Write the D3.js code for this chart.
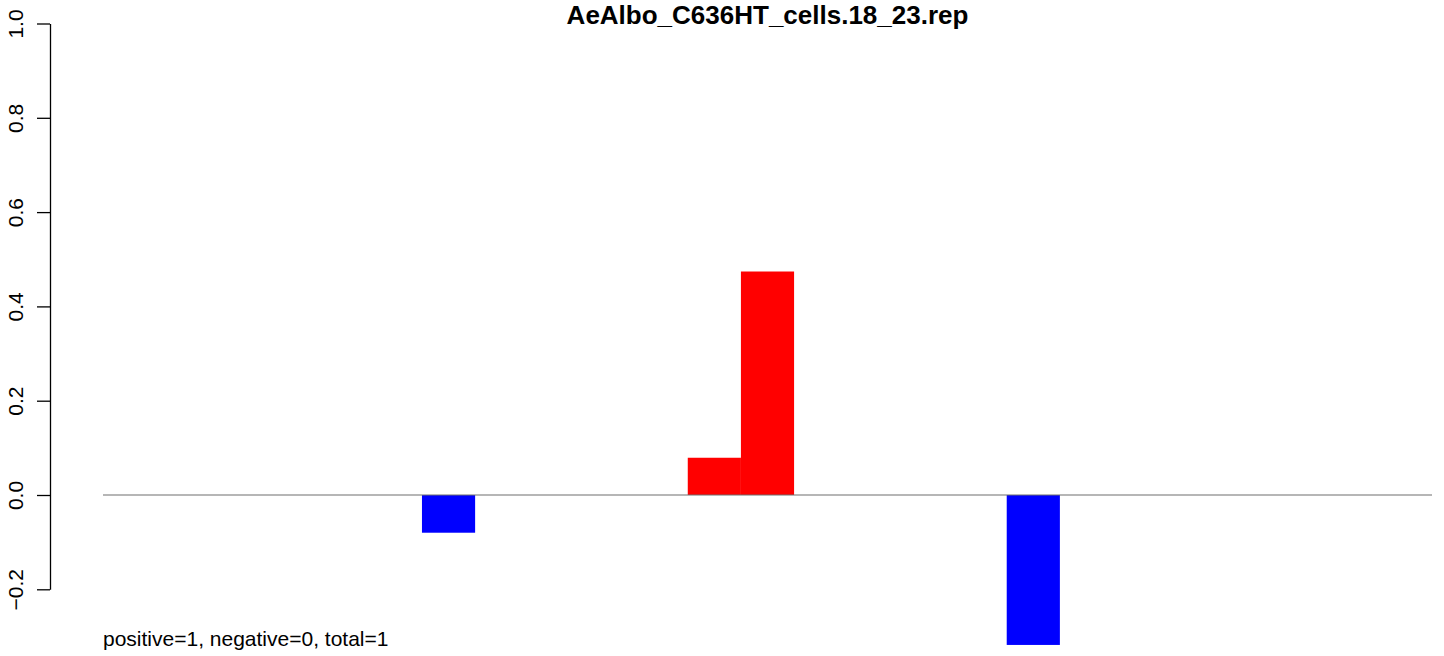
<!DOCTYPE html>
<html>
<head>
<meta charset="utf-8">
<script src="https://cdn.jsdelivr.net/npm/d3@7"></script>
<style>
  body { margin: 0; background: #fff; }
  text { font-family: "Liberation Sans", Arial, Helvetica, sans-serif; }
</style>
</head>
<body>
<script>
// one bar per slot, R barplot style (space = 0)
var slots = d3.range(1, 26);
var values = [0, 0, 0, 0, 0, 0, -0.08, 0, 0, 0, 0, 0.079, 0.474, 0, 0, 0, 0, -0.318, 0, 0, 0, 0, 0, 0, 0];
var yTicks = [-0.2, 0.0, 0.2, 0.4, 0.6, 0.8, 1.0];
var title = "AeAlbo_C636HT_cells.18_23.rep";
var note = "positive=1, negative=0, total=1";

var width = 1444, height = 656;

var svg = d3.select("body").append("svg")
    .attr("width", width)
    .attr("height", height);

var x = d3.scaleBand()
    .domain(slots)
    .range([103, 1432])
    .padding(0);

var y = d3.scaleLinear()
    .domain([-0.2, 1.0])
    .range([589.3, 23.5]);

svg.append("g")
  .selectAll("rect")
  .data(values.map(function(v, i) { return {slot: slots[i], v: v}; })
          .filter(function(d) { return d.v != 0; }))
  .enter().append("rect")
    .attr("x", function(d) { return x(d.slot); })
    .attr("width", x.bandwidth())
    .attr("y", function(d) { return y(Math.max(0, d.v)); })
    .attr("height", function(d) { return Math.abs(y(d.v) - y(0)); })
    .attr("fill", function(d) { return d.v > 0 ? "#ff0000" : "#0000ff"; });

// zero line
svg.append("line")
    .attr("x1", x.range()[0])
    .attr("x2", x.range()[1])
    .attr("y1", y(0))
    .attr("y2", y(0))
    .attr("stroke", "#6e6e6e")
    .attr("stroke-width", 1.1);

var yAxis = svg.append("g")
    .attr("transform", "translate(50,0)")
    .call(d3.axisLeft(y)
      .tickValues(yTicks)
      .tickFormat(d3.format(".1f"))
      .tickSize(13)
      .tickSizeOuter(0));

yAxis.selectAll("path, line")
    .attr("stroke", "#000")
    .attr("stroke-width", 1.3);

yAxis.selectAll("text")
    .attr("transform", "rotate(-90)")
    .attr("x", 0)
    .attr("y", -27)
    .attr("dy", 0)
    .attr("text-anchor", "middle")
    .attr("fill", "#000")
    .style("font-size", "21px");

svg.append("text")
    .attr("x", (x.range()[0] + x.range()[1]) / 2)
    .attr("y", 24)
    .attr("text-anchor", "middle")
    .style("font-size", "26px")
    .style("font-weight", "bold")
    .text(title);

svg.append("text")
    .attr("x", 103)
    .attr("y", 646)
    .style("font-size", "21px")
    .text(note);
</script>
</body>
</html>
